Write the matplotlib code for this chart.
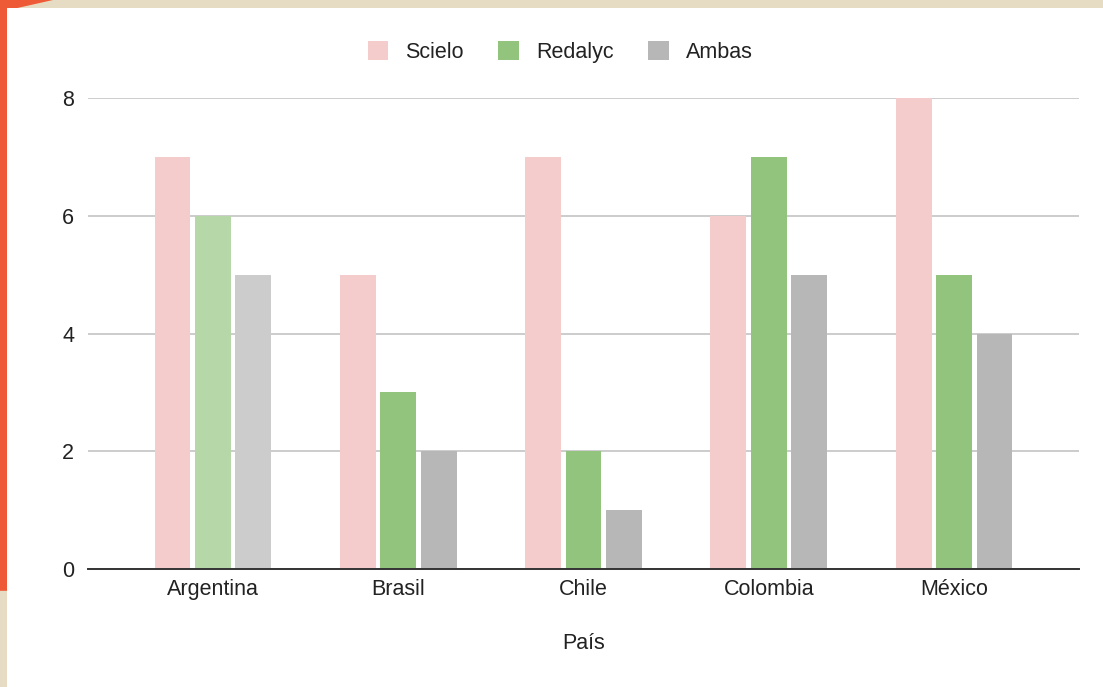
import matplotlib.pyplot as plt
import numpy as np
from matplotlib.patches import Rectangle, Polygon

plt.rcParams["font.family"] = ["Liberation Sans", "DejaVu Sans"]

paises = ["Argentina", "Brasil", "Chile", "Colombia", "México"]
scielo = [7, 5, 7, 6, 8]
redalyc = [6, 3, 2, 7, 5]
ambas = [5, 2, 1, 5, 4]
series = ["Scielo", "Redalyc", "Ambas"]

col = ["#f4cccc", "#93c47d", "#b7b7b7"]
col_hover = ["#f4cccc", "#b6d7a8", "#cccccc"]   # Argentina looks highlighted

fig = plt.figure(figsize=(11.03, 6.87), dpi=100)
fig.patch.set_facecolor("#e6dcc4")

# white card + orange corner
fig.patches.append(Polygon([(0, 0.14), (0, 1), (0.048, 1), (0.0065, 0.985), (0.0065, 0.14)],
                           closed=True, transform=fig.transFigure, facecolor="#ef5a36",
                           edgecolor="none", zorder=-2))
fig.patches.append(Rectangle((0.0065, 0), 1, 0.988, transform=fig.transFigure,
                             facecolor="white", edgecolor="none", zorder=-2))

ax = fig.add_axes([88/1103, 118/687, 991/1103, 471/687])
ax.set_facecolor("none")

x = np.arange(len(paises))
w = 0.194
step = 0.218
data = [scielo, redalyc, ambas]
for k in range(3):
    colors = [col_hover[k] if i == 0 else col[k] for i in range(len(paises))]
    ax.bar(x + (k - 1) * step, data[k], width=w, color=colors, label=series[k], zorder=3)

ax.set_xlim(-0.674, 4.674)
ax.set_ylim(0, 8)
ax.set_yticks([0, 2, 4, 6, 8])
ax.grid(axis="y", color="#cccccc", linewidth=1.4, zorder=0)
for s in ["top", "right", "left"]:
    ax.spines[s].set_visible(False)
ax.spines["bottom"].set_color("#333333")
ax.spines["bottom"].set_linewidth(1.4)
ax.spines["bottom"].set_zorder(4)
ax.tick_params(axis="both", length=0, labelsize=15.5, colors="#222222")
ax.tick_params(axis="y", pad=10)
ax.tick_params(axis="x", pad=7)
ax.set_xticks(x)
ax.set_xticklabels(paises)
ax.set_xlabel("País", fontsize=15.5, color="#222222", labelpad=24)

handles = [Rectangle((0, 0), 1, 1, facecolor=c, edgecolor="none") for c in col]
leg = fig.legend(handles, series, loc="center", bbox_to_anchor=(0.508, 1 - 52/687),
                 ncol=3, frameon=False, fontsize=15.5, handlelength=0.95, handleheight=0.95,
                 handletextpad=0.8, columnspacing=1.6)
for t in leg.get_texts():
    t.set_color("#222222")

plt.savefig("out.png", dpi=100)
